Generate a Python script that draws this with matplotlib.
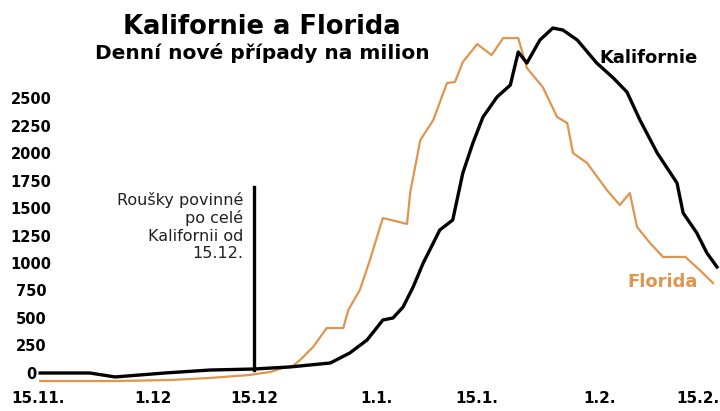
import matplotlib
matplotlib.use('Agg')
import matplotlib.pyplot as plt

# days since 15.11.
ca_days = [0.3, 7.2, 10.7, 17.6, 23.9, 29.9, 35, 37.8, 40.6, 43.3, 45.7, 47.9, 49.3, 50.7,
           52.1, 53.5, 54.9, 55.8, 57.6, 59, 60.4, 61.8, 63.75, 65.6, 66.7, 67.9, 69.7,
           71.5, 72.9, 74.9, 77.6, 79.9, 81.8, 83.6, 86, 88.75, 89.6, 91.5, 92.9, 94.3]
ca_cases = [0, 0, -36, 0, 27, 36, 55, 73, 91, 182, 300, 482, 500, 600,
            782, 1000, 1182, 1300, 1391, 1818, 2091, 2327, 2509, 2618, 2918, 2818, 3027,
            3136, 3118, 3027, 2818, 2682, 2554, 2300, 2000, 1727, 1455, 1273, 1091, 964]

fl_days = [0.3, 10.7, 18.3, 23.9, 29.4, 32.2, 34, 35.4, 36.4, 38.2, 40.1, 42.4, 43.1, 44.7,
           46.1, 47.5, 47.9, 51.25, 51.7, 53.1, 54.9, 56.8, 57.9, 59, 61, 63, 64.6, 66.7,
           67.9, 70.1, 72.1, 73.5, 74.3, 76.25, 79, 80.8, 82.2, 83.2, 85, 86.8, 89.9, 91.9, 93.75]
fl_cases = [-73, -73, -64, -45, -18, 9, 45, 64, 118, 236, 409, 409, 573, 755,
            1027, 1327, 1409, 1355, 1645, 2118, 2300, 2636, 2645, 2827, 2990, 2890, 3045, 3045,
            2773, 2600, 2327, 2273, 2000, 1909, 1664, 1527, 1636, 1327, 1182, 1055, 1055, 936, 818]

tick_days = [0, 16, 30, 47, 61, 78, 91.6]
tick_labels = ['15.11.', '1.12', '15.12', '1.1.', '15.1.', '1.2.', '15.2.']
y_ticks = [0, 250, 500, 750, 1000, 1250, 1500, 1750, 2000, 2250, 2500]

mask_day = 30
mask_top = 1690

orange = '#e0954f'

fig = plt.figure(figsize=(7.2, 4.11), dpi=100)
ax = fig.add_axes([0, 0.0633, 1, 0.9367])
ax.set_xlim(-5.28, 94.72)
ax.set_ylim(-109, 3391)

ax.plot(fl_days, fl_cases, color=orange, lw=1.6, zorder=2)
ax.plot(ca_days, ca_cases, color='black', lw=2.4, zorder=3)
ax.plot([mask_day, mask_day], [30, mask_top], color='black', lw=2.4, zorder=4)

ax.text(28.5, 1650, 'Roušky povinné\npo celé\nKalifornii od\n15.12.', ha='right', va='top',
        multialignment='right', fontsize=11.5, color='#222222', linespacing=1.2)
ax.text(78, 2863, 'Kalifornie', fontsize=13, fontweight='bold', color='black', va='center')
ax.text(81.8, 827, 'Florida', fontsize=13, fontweight='bold', color=orange, va='center')

ax.set_xticks(tick_days)
ax.set_xticklabels(tick_labels, fontsize=11, fontweight='bold')
ax.set_yticks(y_ticks)
ax.set_yticklabels([str(v) for v in y_ticks], fontsize=10.5, fontweight='bold')
ax.tick_params(axis='x', length=0, pad=4)
ax.tick_params(axis='y', length=0, pad=-22.3)
for lab in ax.get_yticklabels():
    lab.set_horizontalalignment('center')
for s in ax.spines.values():
    s.set_visible(False)

fig.text(262 / 720, 1 - 27 / 411, 'Kalifornie a Florida', ha='center', va='center',
         fontsize=18.5, fontweight='bold')
fig.text(262 / 720, 1 - 53 / 411, 'Denní nové případy na milion', ha='center', va='center',
         fontsize=14.5, fontweight='bold')

fig.savefig('out.png', dpi=100)
